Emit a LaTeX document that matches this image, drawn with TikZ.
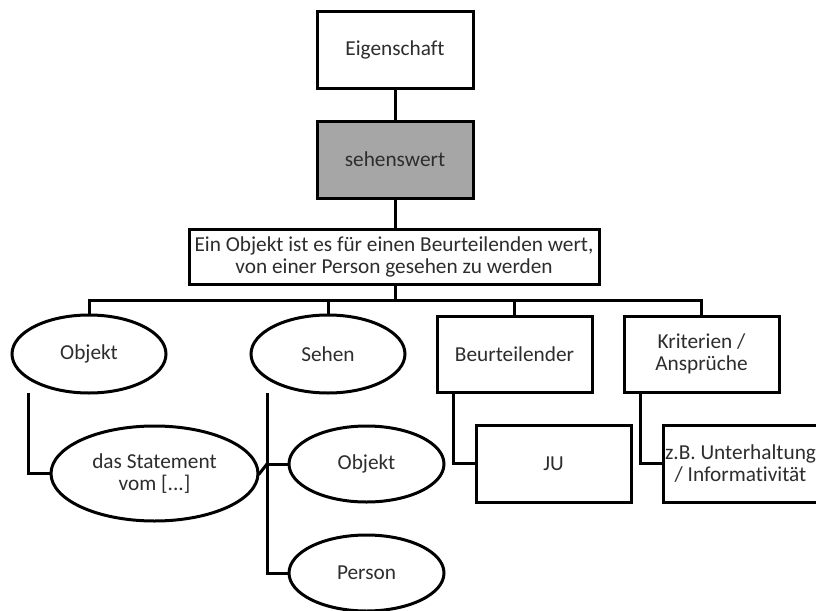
\documentclass[tikz,border=0pt]{standalone}
\usepackage{fontspec}
\setmainfont{Carlito}[Ligatures=NoCommon]
\usetikzlibrary{shapes.geometric}
\definecolor{boxgray}{RGB}{166,166,166}
\definecolor{txt}{RGB}{45,45,45}
\tikzset{
  every node/.style={font=\fontsize{21.3}{22}\selectfont, text=txt, align=center, inner sep=0pt},
  conn/.style={line width=3pt, line cap=rect},
  rectbox/.style={draw, line width=3pt, rectangle, fill=white},
  ovalbox/.style={draw, line width=3pt, ellipse, fill=white},
}
\begin{document}
\begin{tikzpicture}[x=1pt, y=-1pt]
\useasboundingbox (0,0) rectangle (816,610);

% top chain
\node[rectbox, minimum width=156pt, minimum height=76pt] (eig) at (395,50) {Eigenschaft};
\node[rectbox, fill=boxgray, minimum width=156pt, minimum height=77pt] (seh) at (395,159.5) {sehenswert};
\node[rectbox, minimum width=410pt, minimum height=55pt] (def) at (394,256.5)
  {Ein Objekt ist es für einen Beurteilenden wert,\\von einer Person gesehen zu werden};

% first level
\node[ovalbox, minimum width=154pt, minimum height=78pt] (obj) at (89,354) {Objekt};
\node[ovalbox, minimum width=154pt, minimum height=78pt] (sehen) at (328,354) {Sehen};
\node[rectbox, minimum width=155pt, minimum height=76pt] (beur) at (514.5,354) {Beurteilender};
\node[rectbox, minimum width=155pt, minimum height=76pt] (krit) at (701.5,354) {Kriterien /\\Ansprüche};

% second level
\node[ovalbox, minimum width=207pt, minimum height=95pt] (stmt) at (154.5,473.5) {das Statement\\vom [...]};
\node[ovalbox, minimum width=155pt, minimum height=76pt] (obj2) at (366.5,464) {Objekt};
\node[ovalbox, minimum width=155pt, minimum height=76pt] (pers) at (366.5,573) {Person};
\node[rectbox, minimum width=155pt, minimum height=77pt] (ju) at (553.5,463.5) {JU};
\node[rectbox, minimum width=155pt, minimum height=77pt] (zb) at (740.5,463.5) {z.B. Unterhaltung\\/ Informativität};

% connectors
\coordinate (bus) at (395,300);
\draw[conn] (eig.south) -- (seh.north);
\draw[conn] (seh.south) -- (seh.south |- def.north);
\draw[conn] (def.south -| bus) -- (bus);
\draw[conn] (obj.north) |- (bus);
\draw[conn] (sehen.north) |- (bus);
\draw[conn] (beur.north) |- (bus);
\draw[conn] (krit.north) |- (bus);

\coordinate (s1) at ([xshift=-61pt]obj.south);
\coordinate (s2) at ([xshift=-61pt]sehen.south);
\coordinate (s3) at ([xshift=-61.5pt]beur.south);
\coordinate (s4) at ([xshift=-61.5pt]krit.south);
\draw[conn] (s1) |- (stmt.west);
\draw[conn] (s2) |- (pers.west);
\draw[conn] (obj2.west) -- (obj2.west -| s2);
\draw[conn] (stmt.east) -- (obj2.west -| s2);
\draw[conn] (s3) |- (ju.west);
\draw[conn] (s4) |- (zb.west);
\end{tikzpicture}
\end{document}
